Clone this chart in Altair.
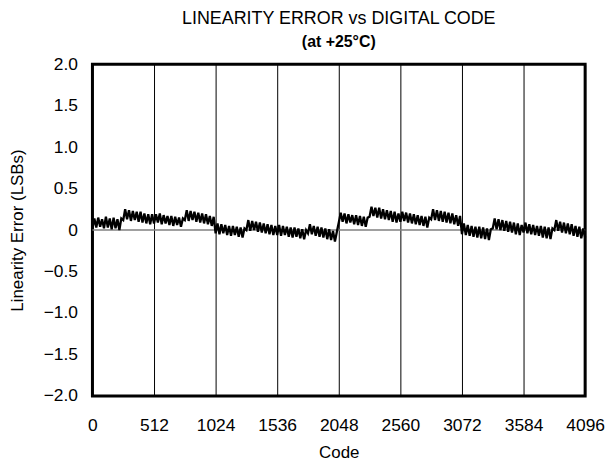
import altair as alt
import pandas as pd

seg_values = [
    [0.02, 0.14, 0.03, 0.15, 0.04, 0.13, 0.02, 0.16, 0.03, 0.14, 0.01, 0.15, 0.02, 0.13, 0.00, 0.14],
    [0.12, 0.25, 0.13, 0.24, 0.11, 0.23, 0.12, 0.22, 0.10, 0.22, 0.09, 0.20, 0.08, 0.19, 0.07, 0.19],
    [0.08, 0.19, 0.09, 0.20, 0.07, 0.18, 0.08, 0.17, 0.06, 0.17, 0.05, 0.16, 0.06, 0.15, 0.04, 0.14],
    [0.12, 0.24, 0.11, 0.23, 0.12, 0.22, 0.10, 0.21, 0.09, 0.20, 0.08, 0.19, 0.07, 0.17, 0.05, 0.16],
    [-0.04, 0.08, -0.05, 0.07, -0.04, 0.06, -0.06, 0.05, -0.07, 0.05, -0.06, 0.04, -0.08, 0.03, -0.09, 0.02],
    [0.00, 0.12, -0.01, 0.11, 0.00, 0.10, -0.02, 0.09, -0.03, 0.08, -0.04, 0.07, -0.05, 0.06, -0.06, 0.05],
    [-0.06, 0.06, -0.07, 0.05, -0.06, 0.04, -0.08, 0.03, -0.09, 0.03, -0.08, 0.02, -0.10, 0.01, -0.11, 0.00],
    [-0.04, 0.07, -0.05, 0.05, -0.07, 0.04, -0.08, 0.03, -0.09, 0.02, -0.11, 0.01, -0.12, -0.01, -0.14, -0.02],
    [0.09, 0.21, 0.10, 0.20, 0.08, 0.19, 0.09, 0.18, 0.07, 0.18, 0.06, 0.17, 0.05, 0.16, 0.04, 0.15],
    [0.16, 0.28, 0.17, 0.27, 0.15, 0.27, 0.14, 0.25, 0.13, 0.24, 0.12, 0.23, 0.10, 0.22, 0.09, 0.20],
    [0.10, 0.22, 0.11, 0.21, 0.09, 0.20, 0.08, 0.19, 0.07, 0.18, 0.06, 0.17, 0.05, 0.16, 0.03, 0.15],
    [0.13, 0.25, 0.12, 0.24, 0.11, 0.23, 0.10, 0.22, 0.09, 0.21, 0.08, 0.20, 0.07, 0.18, 0.05, 0.17],
    [-0.05, 0.08, -0.06, 0.06, -0.07, 0.05, -0.08, 0.04, -0.09, 0.04, -0.10, 0.03, -0.11, 0.02, -0.12, 0.01],
    [0.02, 0.14, 0.01, 0.13, 0.00, 0.12, -0.01, 0.11, -0.02, 0.10, -0.03, 0.09, -0.05, 0.08, -0.06, 0.06],
    [-0.03, 0.09, -0.04, 0.07, -0.05, 0.06, -0.06, 0.05, -0.07, 0.05, -0.09, 0.04, -0.10, 0.03, -0.11, 0.02],
    [0.00, 0.12, -0.01, 0.10, -0.03, 0.09, -0.04, 0.08, -0.05, 0.07, -0.07, 0.05, -0.08, 0.04, -0.10, 0.02],
]
last_value = -0.09
code_step = 16

x_ticks = [0, 512, 1024, 1536, 2048, 2560, 3072, 3584, 4096]
y_ticks = [-2.0, -1.5, -1.0, -0.5, 0.0, 0.5, 1.0, 1.5, 2.0]

errors = [v for seg in seg_values for v in seg] + [last_value]
codes = [i * code_step for i in range(len(errors))]
df = pd.DataFrame({"code": codes, "err": errors})

FONT = "Liberation Sans"
LBL = 17.5
TTL = 17

x_enc = alt.X(
    "code:Q",
    scale=alt.Scale(domain=[0, 4096], nice=False),
    axis=alt.Axis(
        values=x_ticks, title="Code", grid=True, gridColor="black", gridWidth=1,
        domain=False, ticks=False, labelPadding=21, labelFontSize=LBL,
        labelFont=FONT, labelColor="black", titleFont=FONT, titleFontSize=TTL,
        titleFontWeight="normal", titleColor="black", titlePadding=10,
        format="d", labelFlush=False,
    ),
)
y_enc = alt.Y(
    "err:Q",
    scale=alt.Scale(domain=[-2, 2], nice=False),
    axis=alt.Axis(
        values=y_ticks, title="Linearity Error (LSBs)", grid=False,
        domain=False, ticks=False, labelPadding=15, labelFontSize=LBL,
        labelFont=FONT, labelColor="black", titleFont=FONT, titleFontSize=TTL,
        titleFontWeight="normal", titleColor="black", titlePadding=17,
        labelExpr="datum.value == 0 ? '0' : replace(format(datum.value, '.1f'), '-', '\u2212')",
        labelFlush=False,
    ),
)

line = alt.Chart(df).mark_line(color="black", strokeWidth=2.3).encode(x=x_enc, y=y_enc)
zero = alt.Chart(pd.DataFrame({"y": [0.0]})).mark_rule(color="#808080", strokeWidth=1.5).encode(y="y:Q")

chart = (
    alt.layer(zero, line)
    .properties(
        width=496,
        height=334,
        autosize="none",
        padding={"left": 85, "top": 55, "right": 20, "bottom": 68},
        title=alt.TitleParams(
            text="LINEARITY ERROR vs DIGITAL CODE",
            subtitle="(at +25\u00b0C)",
            font=FONT, fontSize=18, fontWeight="normal", color="black",
            subtitleFont=FONT, subtitleFontSize=16, subtitleFontWeight="bold",
            subtitleColor="black", subtitlePadding=6, anchor="middle", offset=5,
        ),
    )
    .configure_view(stroke="black", strokeWidth=3)
)

chart.save("out.html", embed_options={"renderer": "svg", "actions": False})
